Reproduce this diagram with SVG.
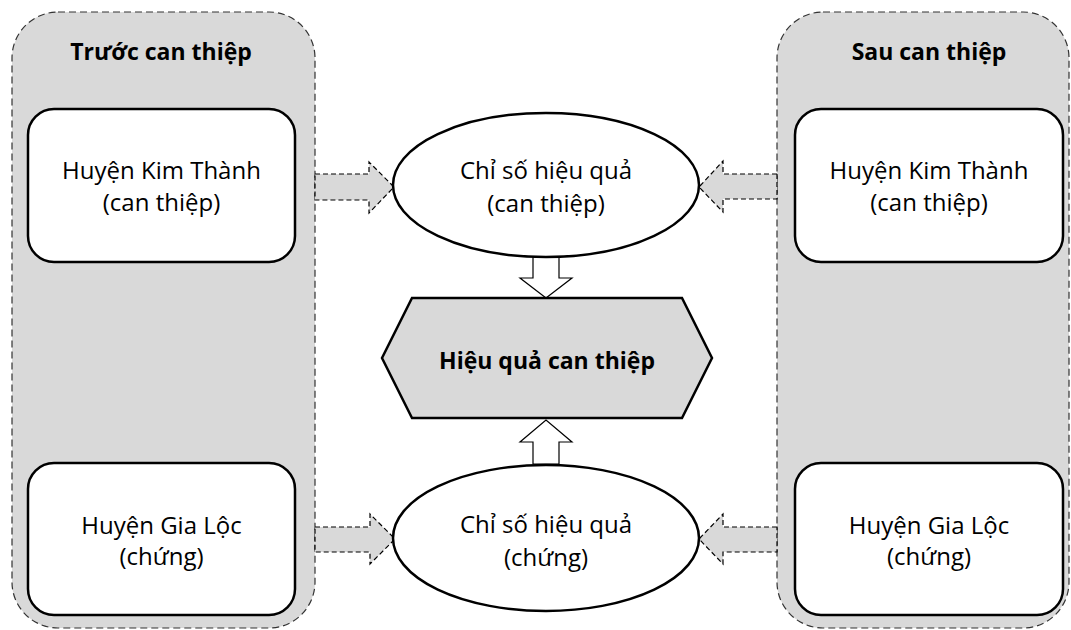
<svg xmlns="http://www.w3.org/2000/svg" width="1071" height="630" viewBox="0 0 1071 630">
<style>
.panel{fill:#d9d9d9;stroke:#333;stroke-width:1.2;stroke-dasharray:7 4}
.box{fill:#fff;stroke:#000;stroke-width:2.5}
.ell{fill:#fff;stroke:#000;stroke-width:2.5}
.hex{fill:#d9d9d9;stroke:#000;stroke-width:2.5}
.darr{fill:#d9d9d9;stroke:#000;stroke-width:1.2;stroke-dasharray:5 3}
.barr{fill:#fff;stroke:#000;stroke-width:1.2}
.t{font-family:"Open Sans","Liberation Sans",sans-serif;font-size:24px;fill:#000;text-anchor:middle}
.tb{font-family:"Open Sans","Liberation Sans",sans-serif;font-size:23px;font-weight:bold;fill:#000;text-anchor:middle}
</style>
<g id="panel-before">
<rect class="panel" x="12" y="12" width="303" height="616" rx="46" ry="46"/>
<text class="tb" x="161" y="60">Trước can thiệp</text>
</g>
<g id="panel-after">
<rect class="panel" x="777" y="12" width="292" height="616" rx="46" ry="46"/>
<text class="tb" x="929" y="60">Sau can thiệp</text>
</g>
<g id="connectors">
<polygon class="darr" points="315,174 369,174 369,162 394,187 369,213 369,200 315,200"/>
<polygon class="darr" points="315,527 370,527 370,514 395,539 370,564 370,552 315,552"/>
<polygon class="darr" points="777,174 723,174 723,161 699,187 723,212 723,199 777,199"/>
<polygon class="darr" points="777,527 723,527 723,514 699,539 723,564 723,552 777,552"/>
<polygon class="barr" points="533,257 559,257 559,278 572,278 546,298 520,278 533,278"/>
<polygon class="barr" points="533,464 559,464 559,442 572,442 546,420 520,442 533,442"/>
</g>
<g id="kt-before">
<rect class="box" x="28" y="109" width="267" height="153" rx="26" ry="26"/>
<text class="t" x="161.5" y="179">Huyện Kim Thành</text>
<text class="t" x="161.5" y="211">(can thiệp)</text>
</g>
<g id="gl-before">
<rect class="box" x="28" y="463" width="267" height="152" rx="26" ry="26"/>
<text class="t" x="161.5" y="534">Huyện Gia Lộc</text>
<text class="t" x="161.5" y="565">(chứng)</text>
</g>
<g id="kt-after">
<rect class="box" x="795" y="109" width="268" height="153" rx="26" ry="26"/>
<text class="t" x="929" y="179">Huyện Kim Thành</text>
<text class="t" x="929" y="211">(can thiệp)</text>
</g>
<g id="gl-after">
<rect class="box" x="795" y="463" width="268" height="152" rx="26" ry="26"/>
<text class="t" x="929" y="534">Huyện Gia Lộc</text>
<text class="t" x="929" y="565">(chứng)</text>
</g>
<g id="idx-intervention">
<ellipse class="ell" cx="546" cy="185" rx="153" ry="72"/>
<text class="t" x="546" y="179">Chỉ số hiệu quả</text>
<text class="t" x="546" y="212">(can thiệp)</text>
</g>
<g id="idx-control">
<ellipse class="ell" cx="546" cy="538" rx="153" ry="73"/>
<text class="t" x="546" y="533">Chỉ số hiệu quả</text>
<text class="t" x="546" y="566">(chứng)</text>
</g>
<g id="effect">
<polygon class="hex" points="382,358 412,298 682,298 712,358 682,418 412,418"/>
<text class="tb" x="547" y="369">Hiệu quả can thiệp</text>
</g>
</svg>
